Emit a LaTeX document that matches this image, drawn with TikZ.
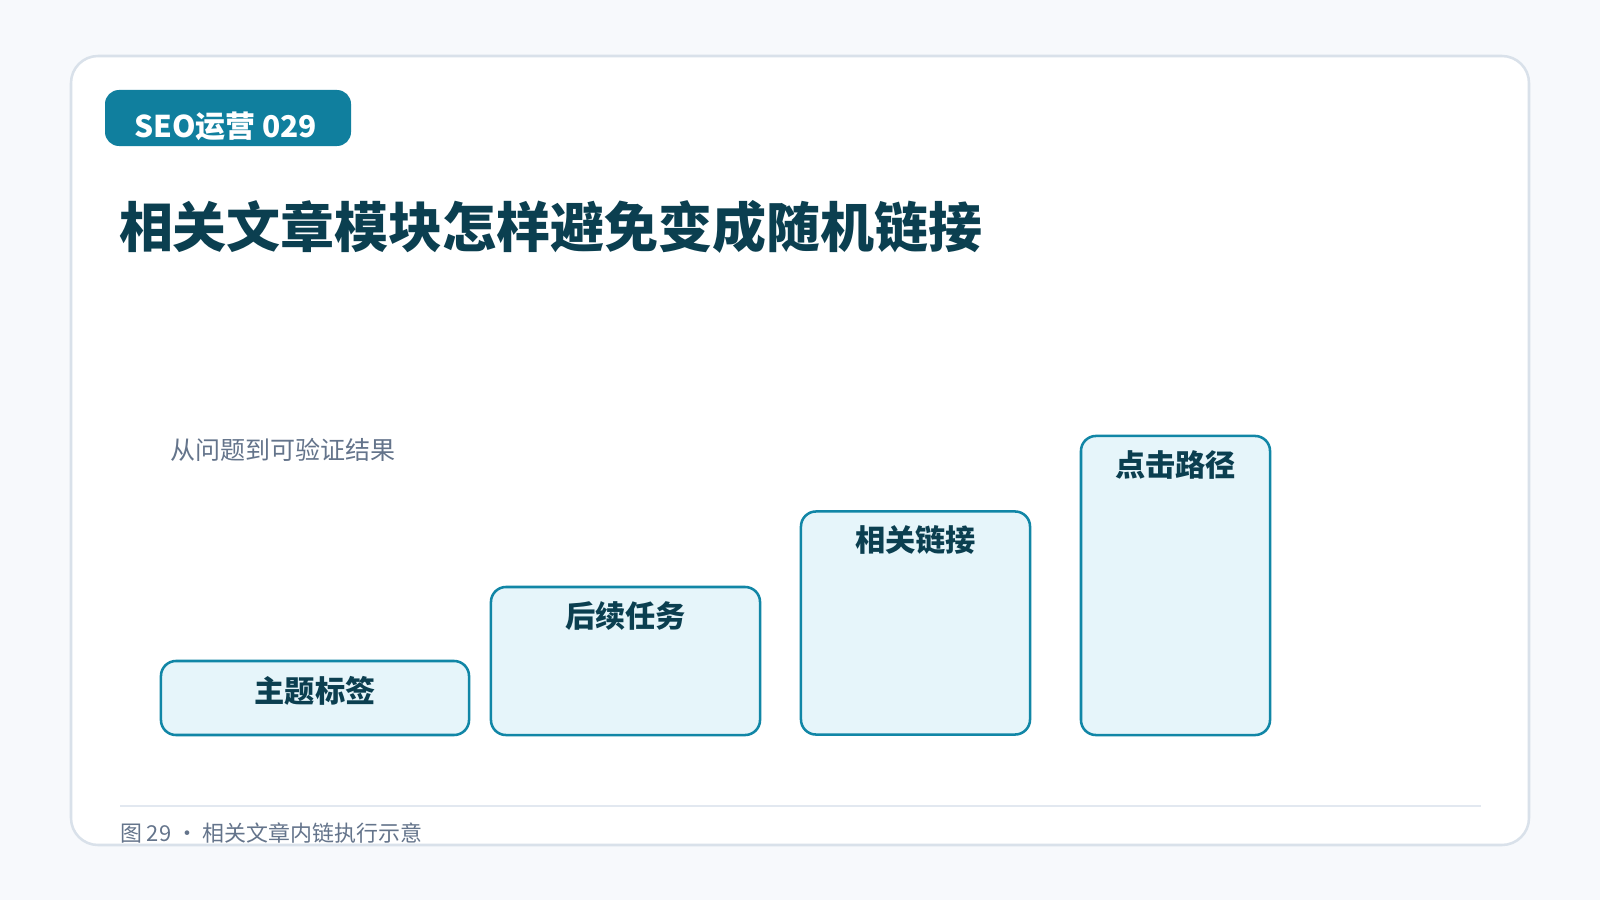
\documentclass[tikz,border=0pt]{standalone}
\usepackage{fontspec}
\setmainfont{Noto Sans CJK SC}
\usepackage{tikz}
\usetikzlibrary{positioning}
\definecolor{pagebg}{HTML}{F7F9FC}
\definecolor{cardline}{HTML}{D9E1EA}
\definecolor{tealdk}{HTML}{0B3F50}
\definecolor{tealmd}{HTML}{1186A6}
\definecolor{tealbg}{HTML}{E6F5FA}
\definecolor{greytxt}{HTML}{64748B}
\definecolor{ruleln}{HTML}{E2E8F0}
\tikzset{
  txtnode/.style = {inner sep=0pt, outer sep=0pt},
  badge_t/.style = {txtnode, white, font=\fontsize{21.3pt}{25pt}\selectfont\bfseries},% etikett oben
  title_t/.style = {txtnode, tealdk, font=\fontsize{38.4pt}{46pt}\selectfont\bfseries},% haupttitel
  grey_t/.style = {txtnode, greytxt, font=\fontsize{17.8pt}{21pt}\selectfont},% grauer text
  foot_t/.style = {txtnode, greytxt, font=\fontsize{15.6pt}{19pt}\selectfont},% bildunterschrift
  stufe_n/.style = {rectangle, draw=tealmd, fill=tealbg, line width=1.8pt,
    rounded corners=0.375cm, inner sep=0pt},% stufe, kasten
  stufe_t/.style = {txtnode, tealdk, font=\fontsize{21.5pt}{25pt}\selectfont\bfseries}% stufe, text
}
\begin{document}
\begin{tikzpicture}[x=0.025cm,y=-0.025cm]
        \fill[pagebg] (0,0) rectangle (1600,900);
        \useasboundingbox (0,0) rectangle (1600,900);
        % karte
        \filldraw[fill=white, draw=cardline, line width=1.8pt, rounded corners=0.675cm]
            (71,56) rectangle (1529,845);
        % etikett
        \fill[tealmd!95!black, rounded corners=0.35cm] (105,90) rectangle (351,146);
        \node [badge_t, anchor=base west] (badge) at (134,137) {SEO运营 029};
        \node [title_t, anchor=base west] (title) at (119,247) {相关文章模块怎样避免变成随机链接};
        \node [grey_t, anchor=base west] (sub) at (170,459) {从问题到可验证结果};
        % stufen
        \node [stufe_n, minimum width=7.7cm, minimum height=1.85cm] (s1) at (315,698) {};
        \node [stufe_n, minimum width=6.725cm, minimum height=3.7cm] (s2) at (625.5,661) {};
        \node [stufe_n, minimum width=5.725cm, minimum height=5.575cm] (s3) at (915.5,623) {};
        \node [stufe_n, minimum width=4.725cm, minimum height=7.475cm] (s4) at (1175.5,585.5) {};
        \node [stufe_t] (t1) at ([yshift=-0.775cm]s1.north) {主题标签};
        \node [stufe_t] (t2) at ([yshift=-0.75cm]s2.north) {后续任务};
        \node [stufe_t] (t3) at ([yshift=-0.75cm]s3.north) {相关链接};
        \node [stufe_t] (t4) at ([yshift=-0.75cm]s4.north) {点击路径};
        % fusszeile
        \draw[ruleln, line width=1.4pt] (120,806) -- (1481,806);
        \node [foot_t, anchor=base west] (foot) at (120,841) {图 29 · 相关文章内链执行示意};
\end{tikzpicture}
\end{document}
